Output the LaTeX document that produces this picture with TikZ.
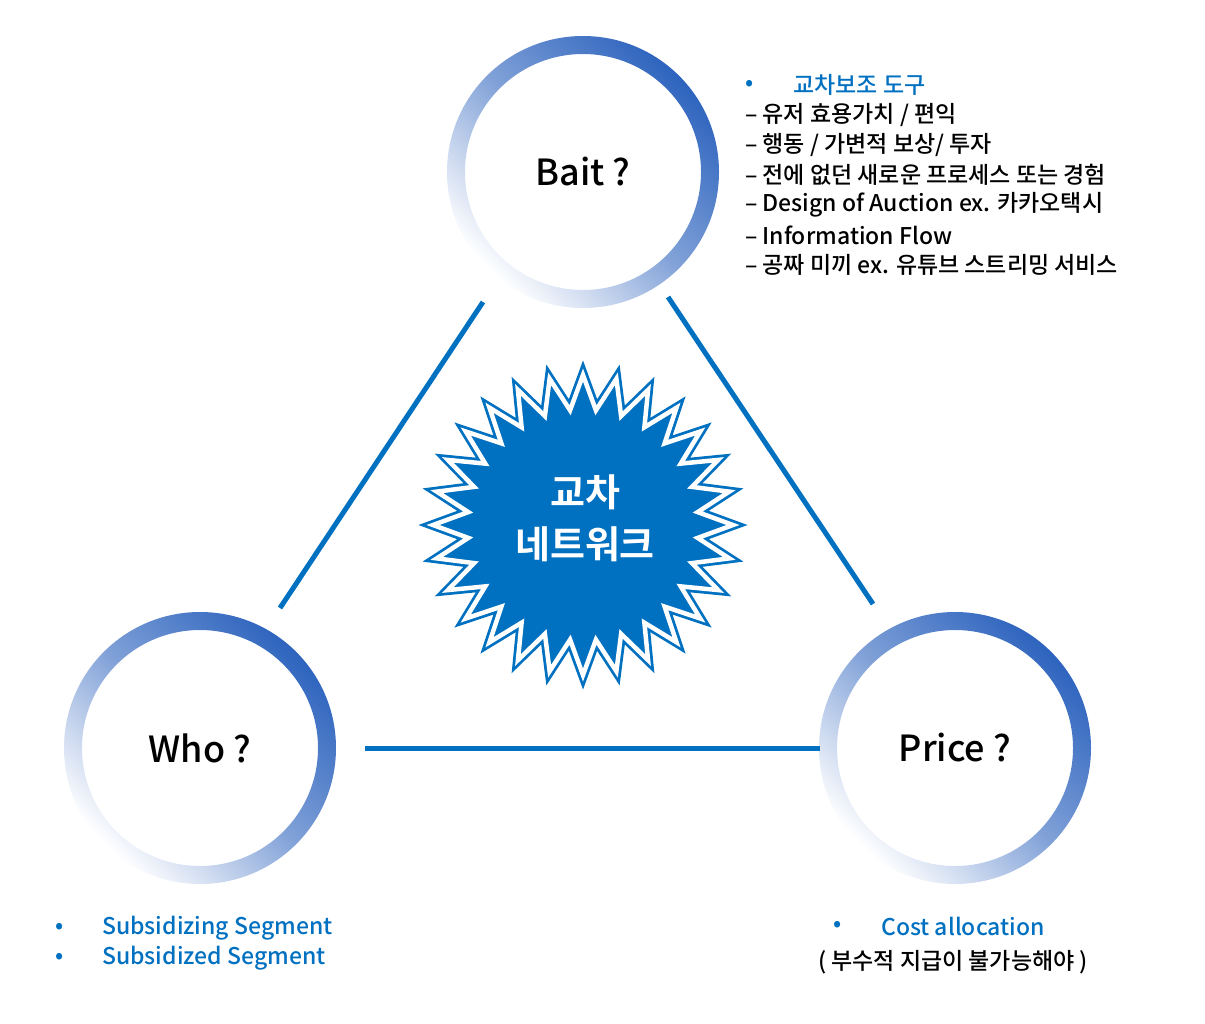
\documentclass[tikz,border=0pt]{standalone}
\usepackage{fontspec}
\setmainfont{Noto Sans CJK KR Medium}
\newfontfamily\kb{Noto Sans CJK KR Bold}
\usetikzlibrary{shapes.geometric}
\definecolor{mb}{HTML}{0070C0}
\definecolor{rb}{HTML}{2E64BE}
\begin{document}
\begin{tikzpicture}[x=1pt,y=-1pt,
  ring/.style={even odd rule,top color=rb,bottom color=white,middle color=rb!60,shading angle=-45},
  conn/.style={draw=mb,line width=5pt},
  big/.style={font=\fontsize{36}{40}\selectfont},
  lst/.style={anchor=west,font=\fontsize{23}{26}\selectfont,inner sep=0pt},
  blu/.style={lst,text=mb}]
\useasboundingbox (0,0) rectangle (1205,1023);
\foreach \n/\x/\y in {bait/583/172,who/200/748,price/955/748}{
  \shade[ring] (\x,\y) circle (136) (\x,\y) circle (118);
  \coordinate (\n) at (\x,\y);
}
\node[big] (tb) at (bait) {Bait ?};
\node[big] (tw) at (who) {Who ?};
\node[big] (tp) at (price) {Price ?};
\coordinate (a1) at (483,302); \coordinate (a2) at (280,608);
\coordinate (b1) at (668,297); \coordinate (b2) at (873,604);
\coordinate (c1) at (365,748); \coordinate (c2) at (820,748);
\draw[conn] (a1)--(a2); \draw[conn] (b1)--(b2); \draw[conn] (c1)--(c2);
\node[star,star points=28,star point ratio=1.3,minimum size=300pt,inner sep=0pt,fill=mb,draw=mb,line width=10pt] (st) at (583,525) {};
\node[star,star points=28,star point ratio=1.3,minimum size=300pt,inner sep=0pt,draw=white,line width=4.5pt] (st2) at (583,525) {};
\node[text=white,align=center,font=\kb\fontsize{38}{52}\selectfont] (stt) at (585,518) {교차\\네트워크};
\node[blu] (l0b) at (745,85) {•};
\node[blu] (l0) at (793,85) {교차보조 도구};
\node[lst] (l1) at (745,115) {– 유저 효용가치 / 편익};
\node[lst] (l2) at (745,145) {– 행동 / 가변적 보상/ 투자};
\node[lst] (l3) at (745,175) {– 전에 없던 새로운 프로세스 또는 경험};
\node[lst] (l4) at (745,205) {– Design of Auction ex. 카카오택시};
\node[lst] (l5) at (745,235) {– Information Flow};
\node[lst] (l6) at (745,265) {– 공짜 미끼 ex. 유튜브 스트리밍 서비스};
\node[blu] (w1b) at (55,928) {•};
\node[blu] (w1) at (102,928) {Subsidizing Segment};
\node[blu] (w2b) at (55,958) {•};
\node[blu] (w2) at (102,958) {Subsidized Segment};
\node[blu] (p1b) at (833,926) {•};
\node[blu] (p1) at (881,926) {Cost allocation};
\node[font=\fontsize{23}{26}\selectfont] (p2) at (953,962) {( 부수적 지급이 불가능해야 )};
\end{tikzpicture}
\end{document}
